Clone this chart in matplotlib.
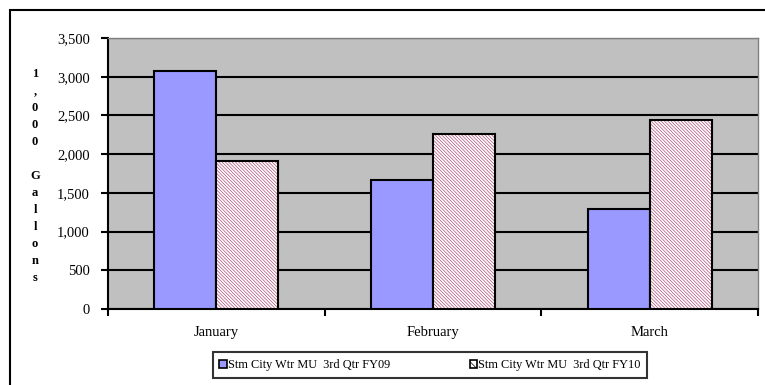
import matplotlib.pyplot as plt
import matplotlib.patches as mpatches
import numpy as np

# data
months = ["January", "February", "March"]
fy09 = [3070, 1670, 1290]
fy10 = [1915, 2260, 2440]
series_names = ["Stm City Wtr MU  3rd Qtr FY09", "Stm City Wtr MU  3rd Qtr FY10"]
y_ticks = [0, 500, 1000, 1500, 2000, 2500, 3000, 3500]

plt.rcParams['font.family'] = ['Liberation Serif', 'DejaVu Serif']
plt.rcParams['hatch.linewidth'] = 0.5

W, H = 765, 385
fig = plt.figure(figsize=(W / 100, H / 100), dpi=100)

# outer chart border
fig.patches.append(mpatches.Rectangle((10 / W, -0.05), 760 / W, 1 - 10 / H + 0.05,
                                      transform=fig.transFigure, fill=False,
                                      edgecolor='black', linewidth=1.5))

ax = fig.add_axes([108 / W, 1 - 309 / H, 650 / W, 271 / H])
ax.set_facecolor('#c0c0c0')

x = np.arange(len(months))
w = 1 / 3.5
ax.bar(x - w / 2, fy09, w, color='#9999ff', edgecolor='black', linewidth=1.5, zorder=3)
# hatch in maroon, then black outline on top
ax.bar(x + w / 2, fy10, w, color='white', edgecolor='#b0507a', linewidth=0,
       hatch='\\\\\\\\\\\\\\\\\\\\', zorder=3)
ax.bar(x + w / 2, fy10, w, fill=False, edgecolor='black', linewidth=1.5, zorder=4)

ax.set_xlim(-0.5, 2.5)
ax.set_ylim(0, 3500)
ax.set_yticks(y_ticks)
ax.set_yticklabels([f"{v:,}" for v in y_ticks], fontsize=10.5)
ax.yaxis.grid(True, color='black', linewidth=1.5, zorder=1)
ax.set_axisbelow(True)

# category ticks between groups
ax.set_xticks([-0.5, 0.5, 1.5, 2.5])
ax.set_xticklabels([])
ax.set_xticks(x, minor=True)
ax.set_xticklabels(months, minor=True, fontsize=10.5)
ax.tick_params(axis='x', which='minor', length=0, pad=12)
ax.tick_params(axis='x', which='major', length=5, width=1.5, direction='out')
ax.tick_params(axis='y', length=5, width=1.5, direction='out', pad=8)

for s in ['top', 'right']:
    ax.spines[s].set_color('#808080')
    ax.spines[s].set_linewidth(1)
for s in ['left', 'bottom']:
    ax.spines[s].set_color('black')
    ax.spines[s].set_linewidth(1.5)

# stacked y label
fig.text(35 / W, 1 - 176 / H, "1\n,\n0\n0\n0\n\nG\na\nl\nl\no\nn\ns",
         ha='center', va='center', fontsize=9, fontweight='bold', linespacing=1.55)

handles = [mpatches.Patch(facecolor='#9999ff', edgecolor='black', linewidth=1.2),
           mpatches.Patch(facecolor='white', edgecolor='black', linewidth=1.2, hatch='\\\\\\\\')]
leg = fig.legend(handles, series_names, loc='center', bbox_to_anchor=(430 / W, 1 - 365 / H),
                 ncol=2, fontsize=8.8, frameon=True, fancybox=False, edgecolor='black',
                 handlelength=0.6, handleheight=0.6, handletextpad=0.1,
                 columnspacing=6.5, borderpad=0.55, borderaxespad=0)
leg.get_frame().set_linewidth(1.5)

fig.savefig('out.png', dpi=100)
